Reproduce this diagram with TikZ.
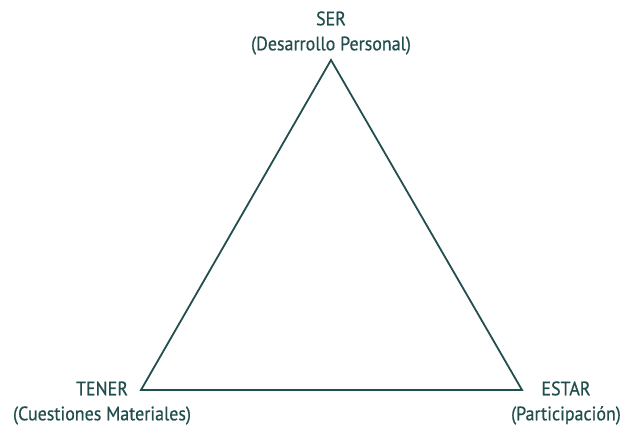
\documentclass[tikz,border=0pt]{standalone}
\usepackage{fontspec}
\setmainfont[FakeStretch=0.92,FakeBold=0.6]{PT Sans}
\usepackage{tikz}
\usetikzlibrary{calc}
\definecolor{verde}{HTML}{234E4E}

\begin{document}
\begin{tikzpicture}[x=1pt,y=-1pt]
    \useasboundingbox(0,0)rectangle(625,427);
    \tikzset{etiqueta/.style={text=verde,align=center,inner sep=0pt,font=\fontsize{19.5}{25}\selectfont}}
    \coordinate(S) at (331,60);
    \coordinate(T) at (141,390);
    \coordinate(E) at (522,390);
    \draw[verde,line width=1.8pt,line join=miter](S)--(T)--(E)--cycle;
    \node[etiqueta](ser) at (331,33){SER\\(Desarrollo Personal)};
    \node[etiqueta](tener) at (102,403){TENER\\(Cuestiones Materiales)};
    \node[etiqueta](estar) at (566,403){ESTAR\\(Participación)};
\end{tikzpicture}
\end{document}
